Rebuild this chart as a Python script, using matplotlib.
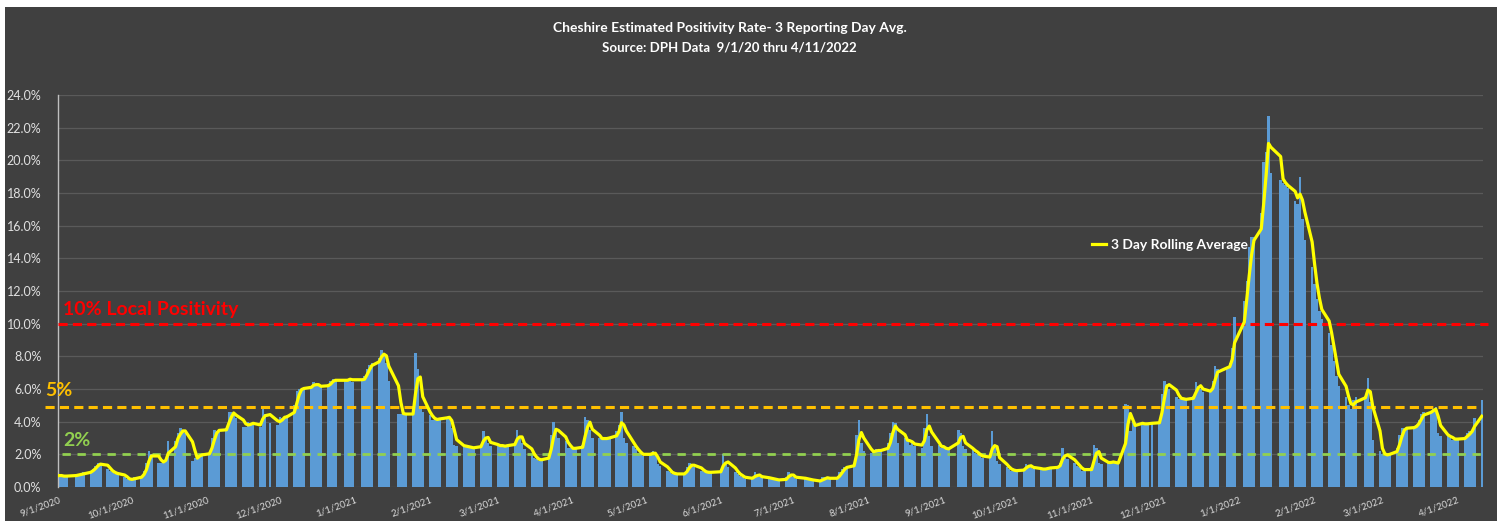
import numpy as np
import pandas as pd
import matplotlib
matplotlib.use("Agg")
import matplotlib.pyplot as plt
from matplotlib.patches import Rectangle

plt.rcParams['font.family'] = ['Lato', 'DejaVu Sans']

# Daily positivity (%) per reporting week, Mon..Fri; None = no report that day
first_monday = "2020-08-31"

fall_2020 = [
    [None, 0.7, 0.7, 0.6, 0.7], [None, 0.8, 0.7, 0.8, 0.9], [1.0, 1.1, 1.3, 1.5, 1.4],
    [1.1, 1.0, 0.9, 0.8, 0.8], [0.6, 0.5, 0.4, 0.5, 0.6], [0.7, 1.0, 1.5, 2.2, 2.0],
    [1.5, 1.5, 1.6, 1.8, 2.8], [2.8, 3.3, 3.6, 3.4, 3.3], [1.6, 1.8, 1.9, 2.0, 2.0],
    [2.1, 3.0, 3.5, 3.4, 3.5], [3.6, 4.6, 4.6, 4.4, 4.2], [3.7, 3.7, 4.0, 3.8, 3.9],
    [3.7, 4.9, 4.5, None, 3.9], [3.8, 4.3, 4.2, 4.3, 4.4], [5.0, 5.9, 6.0, 6.0, 6.1],
    [6.2, 6.4, 6.2, 6.2, 6.1], [6.3, 6.5, 6.6, 6.5, None], [6.5, 6.6, 6.7, 6.4, None],
]
winter_2021 = [
    [6.6, 6.8, 7.2, 7.5, 7.6], [7.9, 8.4, 8.1, 7.6, 6.5], [None, 4.5, 4.5, 4.5, 4.4],
    [4.5, 8.2, 7.2, 4.8, 4.6], [4.4, 4.1, 4.1, 4.2, 4.2], [4.3, 4.3, 3.6, 2.6, 2.5],
    [2.5, 2.5, 2.4, 2.4, 2.4], [2.6, 3.4, 3.0, 2.7, 2.5], [2.6, 2.5, 2.5, 2.5, 2.6],
    [2.7, 3.5, 3.0, 2.7, 2.3], [2.0, 1.8, 1.7, 1.6, 1.7], [2.0, 3.2, 4.0, 3.4, 3.0],
    [2.8, 2.4, 2.4, 2.3, 2.4],
]
spring_2021 = [
    [2.6, 4.3, 4.1, 3.5, 3.0], [3.0, 2.9, 3.0, 3.0, 3.0], [3.4, 3.8, 4.6, 3.0, 2.7],
    [2.5, 2.3, 2.1, 2.0, 1.9], [2.1, 2.2, 1.9, 1.4, 1.3], [1.0, 0.9, 0.8, 0.8, 0.8],
    [0.8, 1.2, 1.5, 1.3, 1.2], [1.0, 0.9, 0.9, 0.9, 0.9], [None, 1.0, 2.0, 1.4, 1.2],
    [0.9, 0.8, 0.7, 0.6, 0.5], [0.5, 0.9, 0.7, 0.6, 0.6], [0.5, 0.5, 0.5, 0.4, 0.4],
    [0.6, 0.9, 0.7, 0.6, 0.5],
]
summer_2021 = [
    [None, 0.5, 0.5, 0.4, 0.4], [0.3, 0.6, 0.6, 0.5, 0.5], [0.6, 0.9, 1.1, 1.2, 1.3],
    [1.4, 3.2, 4.1, 2.7, 2.2], [2.1, 2.2, 2.3, 2.2, 2.2], [2.7, 3.3, 4.0, 3.9, 2.7],
    [3.0, 2.9, 2.6, 2.8, 2.5], [2.4, 3.6, 4.5, 3.1, 2.5], [2.6, 2.4, 2.4, 2.3, 2.3],
    [None, 3.5, 3.3, 2.5, 2.3], [2.3, 2.1, 2.0, 1.9, 1.8], [1.8, 3.4, 2.4, 1.6, 1.4],
    [1.2, 1.1, 1.0, 1.0, 1.0],
]
fall_2021 = [
    [1.1, 1.4, 1.3, 1.2, 1.1], [1.1, 1.1, 1.1, 1.2, 1.2], [1.2, 1.5, 2.4, 1.8, 1.7],
    [1.5, 1.3, 1.2, 1.0, 1.0], [1.2, 2.6, 2.4, 1.5, 1.4], [1.6, 1.5, 1.5, 1.5, 1.4],
    [5.1, 5.0, 3.4, 4.0, 3.9], [3.8, 3.9, 3.9, None, 3.9], [4.0, 5.7, 6.5, 6.3, 6.0],
    [5.5, 5.4, 5.4, 5.4, 5.3], [5.6, 6.4, 6.2, 6.0, 5.8], [5.8, 6.5, 7.4, 7.2, None],
    [7.3, 7.6, 8.5, 10.4, None],
]
winter_2022 = [
    [11.4, 12.6, 14.7, 15.3, 15.3], [16.8, 19.9, 20.5, 22.7, 19.2],
    [None, 18.8, 18.6, 18.5, 18.3], [17.5, 17.3, 19.0, 16.4, 15.1],
    [13.5, 12.4, 11.5, 10.8, 10.3], [9.4, 8.7, 7.7, 6.8, 6.2],
    [5.5, 5.0, 4.8, 5.3, 5.5], [None, 5.6, 6.7, 5.2, 2.9],
    [2.2, 2.0, 1.9, 2.0, 2.1], [2.4, 3.2, 3.6, 3.6, 3.6],
    [3.7, 3.8, 4.1, 4.5, 4.6], [4.6, 4.8, 4.9, 3.3, 3.1],
    [3.2, 3.0, 2.9, 2.9, 3.0], [3.0, 3.3, 3.4, 3.5, 4.2],
    [5.3],
]

weeks = fall_2020 + winter_2021 + spring_2021 + summer_2021 + fall_2021 + winter_2022
start = pd.Timestamp(first_monday)
dates, vals = [], []
for i, wk in enumerate(weeks):
    for j, v in enumerate(wk):
        if v is not None:
            dates.append(start + pd.Timedelta(days=7 * i + j))
            vals.append(v / 100)
df = pd.DataFrame({"date": dates, "rate": vals})
df["avg3"] = df["rate"].rolling(3, min_periods=1).mean()

# figure
W, H = 1501, 525
fig = plt.figure(figsize=(W / 100, H / 100), dpi=100, facecolor="white")
fig.patches.append(Rectangle((5 / W, 4 / H), 1492 / W, 514 / H, transform=fig.transFigure,
                             facecolor="#404040", edgecolor="none", zorder=-10))
ax = fig.add_axes([58 / W, 1 - 487 / H, 1425 / W, 392 / H])
ax.set_facecolor("none")

ax.bar(df["date"], df["rate"], width=1.0, color="#5B9BD5", zorder=2)
ax.plot(df["date"], df["avg3"], color="#FFFF00", lw=2.3, zorder=4, label="3 Day Rolling Average")

ax.set_xlim(pd.Timestamp("2020-08-31 12:00"), pd.Timestamp("2022-04-11 12:00"))
ax.set_ylim(0, 0.24)
yt = np.arange(0, 0.2401, 0.02)
ax.set_yticks(yt)
ax.set_yticklabels([f"{t*100:.1f}%" for t in yt], color="#E0E0E0", fontsize=9)
ax.grid(axis="y", color="#5A5A5A", lw=0.9, zorder=0)
ax.set_axisbelow(True)

months = pd.date_range("2020-09-01", "2022-04-01", freq="MS")
ax.set_xticks(months)
ax.set_xticklabels([f"{d.month}/{d.day}/{d.year}" for d in months], rotation=20,
                   ha="right", rotation_mode="anchor", color="#D9D9D9", fontsize=7)
ax.tick_params(length=0)
ax.tick_params(axis="y", pad=12)
ax.tick_params(axis="x", pad=6)
for s in ["top", "right", "bottom"]:
    ax.spines[s].set_visible(False)
ax.spines["left"].set_color("#BFBFBF")
ax.spines["left"].set_linewidth(1)

# threshold lines
tr = ax.get_yaxis_transform()
ax.plot([0.0, 1.0035], [0.10, 0.10], transform=tr, color="#FF0000", lw=2.2,
        ls=(0, (3, 1.7)), clip_on=False, zorder=3)
ax.plot([-0.009, 0.996], [0.049, 0.049], transform=tr, color="#FFC000", lw=2.2,
        ls=(0, (3, 1.7)), clip_on=False, zorder=3)
ax.plot([0.003, 1.0], [0.02, 0.02], transform=tr, color="#92D050", lw=2.0,
        ls=(0, (3, 2.4)), clip_on=False, zorder=3)
ax.text(0.0035, 0.1085, "10% Local Positivity", transform=tr, color="#FF0000",
        fontsize=14, fontweight="bold", va="center", ha="left")
ax.text(-0.009, 0.0588, "5%", transform=tr, color="#FFC000",
        fontsize=14, fontweight="bold", va="center", ha="left")
ax.text(0.0035, 0.0282, "2%", transform=tr, color="#92D050",
        fontsize=14, fontweight="bold", va="center", ha="left")

leg = ax.legend(loc="center left", bbox_to_anchor=((1092 - 58) / 1425, 0.148 / 0.24),
                frameon=False, handlelength=1.0, handletextpad=0.4, borderpad=0,
                borderaxespad=0, prop={"weight": "bold", "size": 10})
for t in leg.get_texts():
    t.set_color("white")

fig.text(0.486, 1 - 28 / H, "Cheshire Estimated Positivity Rate- 3 Reporting Day Avg.",
         ha="center", va="center", color="white", fontsize=10, fontweight="bold")
fig.text(0.486, 1 - 47 / H, "Source: DPH Data  9/1/20 thru 4/11/2022",
         ha="center", va="center", color="white", fontsize=9.5, fontweight="bold")

fig.savefig("out.png", dpi=100, facecolor="white")
